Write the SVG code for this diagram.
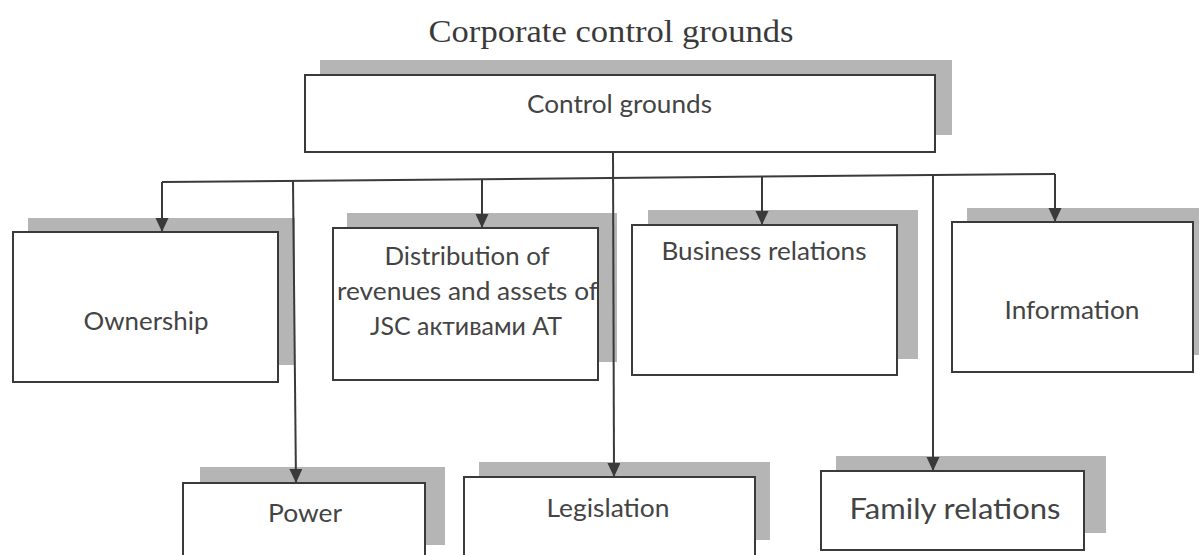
<svg xmlns="http://www.w3.org/2000/svg" width="1199" height="555" viewBox="0 0 1199 555">
<style>
.box{fill:#ffffff;stroke:#3a3a3a;stroke-width:2}
.sh{fill:#b5b5b5}
.lbl{font-family:Lato,"Open Sans","Liberation Sans",sans-serif;font-size:25px;fill:#444444;text-anchor:middle}
.big{font-size:29px}
.title{font-family:"Liberation Serif","DejaVu Serif",serif;font-size:31px;fill:#3a3a3a;text-anchor:middle}
.con{stroke:#3a3a3a;stroke-width:2;fill:none}
.arr{marker-end:url(#ah)}
</style>
<defs>
<marker id="ah" markerUnits="userSpaceOnUse" markerWidth="14" markerHeight="14" refX="14" refY="6.5" orient="auto">
<path d="M0,0 L14,6.5 L0,13 z" fill="#3a3a3a"/>
</marker>
</defs>
<rect width="1199" height="555" fill="#ffffff"/>
<text class="title" x="611" y="42" textLength="365" lengthAdjust="spacingAndGlyphs">Corporate control grounds</text>

<g id="node-control-grounds">
<rect class="sh" x="320" y="60" width="632" height="75"/>
<rect class="box" x="305" y="75" width="630" height="77"/>
<text class="lbl" x="619.5" y="113" textLength="185" lengthAdjust="spacingAndGlyphs">Control grounds</text>
</g>

<g id="node-ownership">
<rect class="sh" x="28" y="218" width="267" height="147"/>
<rect class="box" x="13" y="232" width="265" height="150"/>
<text class="lbl" x="146" y="330" textLength="125" lengthAdjust="spacingAndGlyphs">Ownership</text>
</g>

<g id="node-distribution">
<rect class="sh" x="347" y="213" width="270" height="149"/>
<rect class="box" x="333" y="228" width="265" height="152"/>
<text class="lbl" x="467" y="265" textLength="165" lengthAdjust="spacingAndGlyphs">Distribution of</text>
<text class="lbl" x="467.5" y="300" textLength="261" lengthAdjust="spacingAndGlyphs">revenues and assets of</text>
<text class="lbl" x="466" y="335" textLength="192" lengthAdjust="spacingAndGlyphs">JSC активами АТ</text>
</g>

<g id="node-business">
<rect class="sh" x="648" y="210" width="270" height="149"/>
<rect class="box" x="632" y="225" width="265" height="150"/>
<text class="lbl" x="764" y="260" textLength="205" lengthAdjust="spacingAndGlyphs">Business relations</text>
</g>

<g id="node-information">
<rect class="sh" x="967" y="208" width="240" height="147"/>
<rect class="box" x="952" y="222" width="241" height="150"/>
<text class="lbl" x="1072" y="319" textLength="135" lengthAdjust="spacingAndGlyphs">Information</text>
</g>

<g id="node-power">
<rect class="sh" x="200" y="467" width="245" height="78"/>
<rect class="box" x="183" y="483" width="242" height="100"/>
<text class="lbl" x="305" y="522" textLength="74" lengthAdjust="spacingAndGlyphs">Power</text>
</g>

<g id="node-legislation">
<rect class="sh" x="479" y="462" width="291" height="78"/>
<rect class="box" x="464" y="477" width="291" height="100"/>
<text class="lbl" x="608" y="517" textLength="123" lengthAdjust="spacingAndGlyphs">Legislation</text>
</g>

<g id="node-family">
<rect class="sh" x="836" y="456" width="270" height="77"/>
<rect class="box" x="821" y="471" width="263" height="79"/>
<text class="lbl big" x="955" y="519" textLength="211" lengthAdjust="spacingAndGlyphs">Family relations</text>
</g>

<g id="connectors">
<line class="con" x1="162" y1="182" x2="1055" y2="174"/>
<line class="con arr" x1="613" y1="152" x2="614" y2="477"/>
<line class="con arr" x1="162" y1="182" x2="162" y2="232"/>
<line class="con arr" x1="482" y1="179" x2="482" y2="228"/>
<line class="con arr" x1="762" y1="177" x2="762" y2="225"/>
<line class="con arr" x1="1055" y1="174" x2="1055" y2="222"/>
<line class="con arr" x1="293" y1="181" x2="296" y2="483"/>
<line class="con arr" x1="933" y1="175" x2="933" y2="471"/>
</g>
</svg>
